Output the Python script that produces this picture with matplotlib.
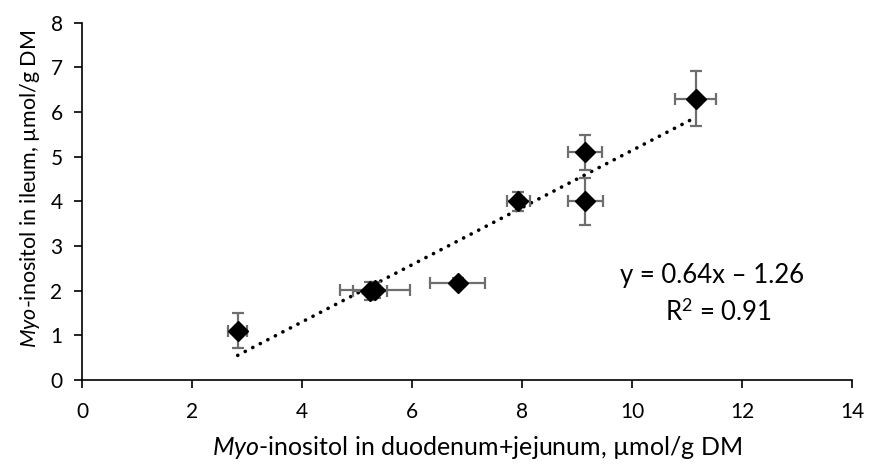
import matplotlib
matplotlib.use("Agg")
import matplotlib.pyplot as plt
import numpy as np

plt.rcParams['font.family'] = ['Lato', 'DejaVu Sans']
plt.rcParams['mathtext.fontset'] = 'custom'
plt.rcParams['mathtext.it'] = 'Lato:italic'
plt.rcParams['mathtext.rm'] = 'Lato'

# Data
x_vals = [2.83, 5.23, 5.33, 6.83, 7.93, 9.15, 9.15, 11.16]
y_vals = [1.10, 2.00, 2.02, 2.18, 4.00, 4.00, 5.10, 6.30]
x_err = [0.17, 0.31, 0.63, 0.50, 0.21, 0.32, 0.31, 0.37]
y_err = [0.39, 0.20, 0.18, 0.10, 0.22, 0.52, 0.39, 0.62]

slope, intercept = 0.64, -1.26
r2 = 0.91

x_ticks = [0, 2, 4, 6, 8, 10, 12, 14]
y_ticks = [0, 1, 2, 3, 4, 5, 6, 7, 8]

fig = plt.figure(figsize=(8.69, 4.67), dpi=100)
ax = fig.add_axes([82/869, 1-380/467, (852-82)/869, (380-22.7)/467])

# trendline
xt = np.array([min(x_vals), max(x_vals)])
ax.plot(xt, slope*xt + intercept, color='black', lw=2.6,
        linestyle=(0, (0.05, 2.3)), dash_capstyle='round', zorder=2)

ax.errorbar(x_vals, y_vals, xerr=x_err, yerr=y_err, fmt='none',
            ecolor='#6e6e6e', elinewidth=1.6, capsize=4.5, capthick=1.6, zorder=3)
ax.plot(x_vals, y_vals, linestyle='none', marker='D', color='black',
        markersize=10, zorder=4)

ax.set_xlim(0, 14)
ax.set_ylim(0, 8)
ax.set_xticks(x_ticks)
ax.set_yticks(y_ticks)
ax.tick_params(axis='both', direction='out', length=6, width=1.2, labelsize=15, colors='black')
ax.tick_params(axis='x', pad=10)
ax.tick_params(axis='y', pad=8)
for s in ['top', 'right']:
    ax.spines[s].set_visible(False)
for s in ['left', 'bottom']:
    ax.spines[s].set_linewidth(1.2)
    ax.spines[s].set_color('black')

ax.set_xlabel(r'$\it{Myo}$' + '-inositol in duodenum+jejunum, µmol/g DM', fontsize=18)
ax.xaxis.set_label_coords(0.513, -0.19)
ax.xaxis.label.set_va('center')
ax.set_ylabel(r'$\it{Myo}$' + '-inositol in ileum, µmol/g DM', fontsize=15.5)
ax.yaxis.set_label_coords(-0.068, 0.535)
ax.yaxis.label.set_va('center')

ax.text(712/869, 1-276/467, 'y = 0.64x – 1.26', transform=fig.transFigure,
        ha='center', va='center', fontsize=18.5)
ax.text(718/869, 1-312/467, 'R$^{2}$ = 0.91', transform=fig.transFigure,
        ha='center', va='center', fontsize=18.5)

fig.savefig('out.png', dpi=100)
